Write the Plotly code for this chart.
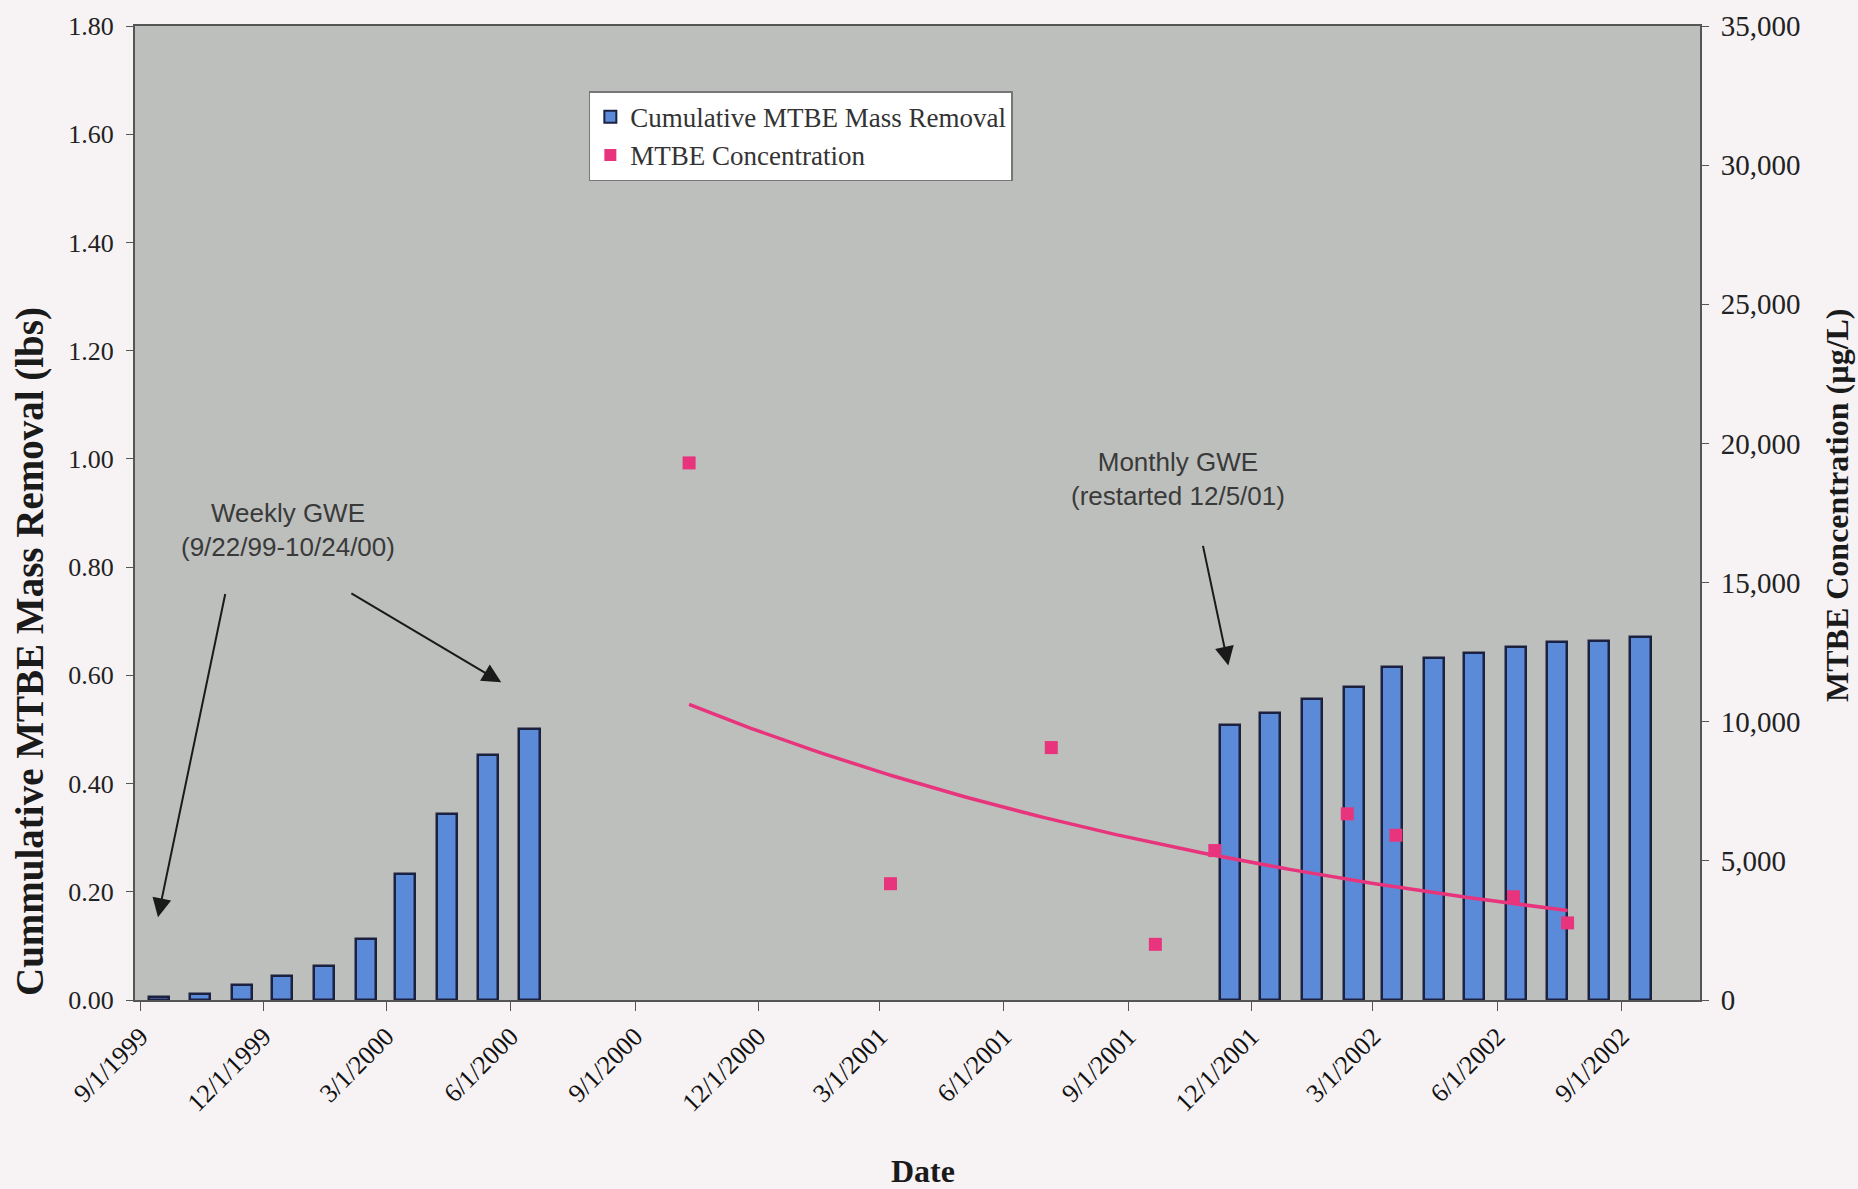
import numpy as np
import pandas as pd
import plotly.graph_objects as go

# Cumulative MTBE mass removed (lbs), monthly totals
weekly_dates = ["1999-09-15", "1999-10-15", "1999-11-15", "1999-12-15", "2000-01-15",
                "2000-02-15", "2000-03-15", "2000-04-15", "2000-05-15", "2000-06-15"]
weekly_mass = [0.005, 0.012, 0.027, 0.044, 0.063, 0.113, 0.233, 0.344, 0.453, 0.500]

monthly_dates = ["2001-11-15", "2001-12-15", "2002-01-15", "2002-02-15", "2002-03-15",
                 "2002-04-15", "2002-05-15", "2002-06-15", "2002-07-15", "2002-08-15",
                 "2002-09-15"]
monthly_mass = [0.508, 0.531, 0.557, 0.579, 0.616, 0.632, 0.642, 0.653, 0.662, 0.664, 0.670]

# MTBE concentration samples (ug/L)
conc_dates = ["2000-10-11", "2001-03-09", "2001-07-06", "2001-09-21", "2001-11-04",
              "2002-02-10", "2002-03-18", "2002-06-13", "2002-07-23"]
conc_values = [19300, 4180, 9070, 2000, 5370, 6690, 5920, 3710, 2770]

# Axis ticks
x_tick_start = "1999-09-01"
y_left_ticks = [0.0, 0.2, 0.4, 0.6, 0.8, 1.0, 1.2, 1.4, 1.6, 1.8]
y_right_ticks = [0, 5000, 10000, 15000, 20000, 25000, 30000, 35000]

BLUE = "#5B8BD8"
EDGE = "#1C2140"
PINK = "#E8347C"
SERIF = "Liberation Serif, Times New Roman, serif"
SANS = "Liberation Sans, Arial, sans-serif"

bar_dates = pd.to_datetime(weekly_dates + monthly_dates)
bar_mass = weekly_mass + monthly_mass

# Exponential trendline through the concentration samples (least squares on ln y)
cd = pd.to_datetime(conc_dates)
t = (cd - cd[0]).days.values.astype(float)
b, ln_a = np.polyfit(t, np.log(conc_values), 1)
t_fit = np.linspace(t[0], t[-1], 200)
fit_dates = cd[0] + pd.to_timedelta(t_fit, unit="D")
fit_vals = np.exp(ln_a + b * t_fit)

fig = go.Figure()

fig.add_trace(go.Bar(
    x=bar_dates, y=bar_mass, name="Cumulative MTBE Mass Removal",
    width=15 * 86400000,
    marker=dict(color=BLUE, line=dict(color=EDGE, width=2.5)),
))
fig.add_trace(go.Scatter(
    x=fit_dates, y=fit_vals, mode="lines", yaxis="y2", showlegend=False,
    line=dict(color=PINK, width=3.5), hoverinfo="skip",
))
fig.add_trace(go.Scatter(
    x=cd, y=conc_values, mode="markers", yaxis="y2", name="MTBE Concentration",
    marker=dict(symbol="square", size=13, color=PINK),
))

ann_font = dict(family=SANS, size=26, color="#3A3A3A")
arrow = dict(xref="x", yref="y", axref="x", ayref="y", text="", showarrow=True,
             arrowhead=2, arrowsize=1.9, arrowwidth=2, arrowcolor="#1A1A1A")
annotations = [
    dict(x="1999-12-19", y=0.868, xref="x", yref="y", text="Weekly GWE<br>(9/22/99-10/24/00)",
         showarrow=False, font=ann_font, align="center"),
    dict(x="2001-10-08", y=0.962, xref="x", yref="y", text="Monthly GWE<br>(restarted 12/5/01)",
         showarrow=False, font=ann_font, align="center"),
    dict(x="1999-09-14", y=0.153, ax="1999-11-03", ay=0.753, **arrow),
    dict(x="2000-05-25", y=0.587, ax="2000-02-03", ay=0.753, **arrow),
    dict(x="2001-11-14", y=0.618, ax="2001-10-26", ay=0.842, **arrow),
    # axis titles
    dict(x=30, y=652, xref="paper", yref="paper", text="<b>Cummulative MTBE Mass Removal (lbs)</b>",
         textangle=-90, showarrow=False, xanchor="center", yanchor="middle",
         font=dict(family=SERIF, size=39, color="#1A1A1A")),
    dict(x=1837, y=505, xref="paper", yref="paper", text="<b>MTBE Concentration (µg/L)</b>",
         textangle=-90, showarrow=False, xanchor="center", yanchor="middle",
         font=dict(family=SERIF, size=32, color="#1A1A1A")),
    dict(x=923, y=1171, xref="paper", yref="paper", text="<b>Date</b>",
         showarrow=False, xanchor="center", yanchor="middle",
         font=dict(family=SERIF, size=32, color="#1A1A1A")),
]

# convert pixel positions of the axis titles to paper fractions
L, R, T, B = 135, 158, 26, 189
W, H = 1858, 1189
pw, ph = W - L - R, H - T - B
for a in annotations[5:]:
    a["x"] = (a["x"] - L) / pw
    a["y"] = (H - B - a["y"]) / ph

fig.update_layout(
    width=W, height=H,
    margin=dict(l=L, r=R, t=T, b=B, autoexpand=False),
    paper_bgcolor="#F7F3F5",
    plot_bgcolor="#BDBFBD",
    font=dict(family=SERIF, size=26, color="#222222"),
    bargap=0,
    showlegend=True,
    legend=dict(x=0.29, y=0.933, xanchor="left", yanchor="top",
                bgcolor="#FFFFFF", bordercolor="#777777", borderwidth=1.5,
                font=dict(family=SERIF, size=27, color="#333333"),
                itemsizing="constant", tracegroupgap=0),
    annotations=annotations,
    xaxis=dict(
        type="date", range=["1999-08-28", "2002-10-29"],
        tick0=x_tick_start, dtick="M3", tickformat="%-m/%-d/%Y",
        tickangle=-45, tickfont=dict(family=SERIF, size=26, color="#111111"),
        ticks="outside", ticklen=9, tickcolor="#555555",
        showline=True, linecolor="#555555", linewidth=2, mirror=True,
        showgrid=False, zeroline=False,
    ),
    yaxis=dict(
        range=[0, 1.8], tickvals=y_left_ticks, tickformat=".2f",
        ticks="outside", ticklen=7, tickcolor="#555555", ticklabelstandoff=7,
        tickfont=dict(family=SERIF, size=26, color="#222222"),
        showline=True, linecolor="#555555", linewidth=2,
        showgrid=False, zeroline=False,
    ),
    yaxis2=dict(
        range=[0, 35000], tickvals=y_right_ticks, tickformat=",",
        overlaying="y", side="right",
        ticks="outside", ticklen=7, tickcolor="#555555", ticklabelstandoff=6,
        tickfont=dict(family=SERIF, size=29, color="#222222"),
        showline=True, linecolor="#555555", linewidth=2,
        showgrid=False, zeroline=False,
    ),
)

fig.write_html("out.html")
